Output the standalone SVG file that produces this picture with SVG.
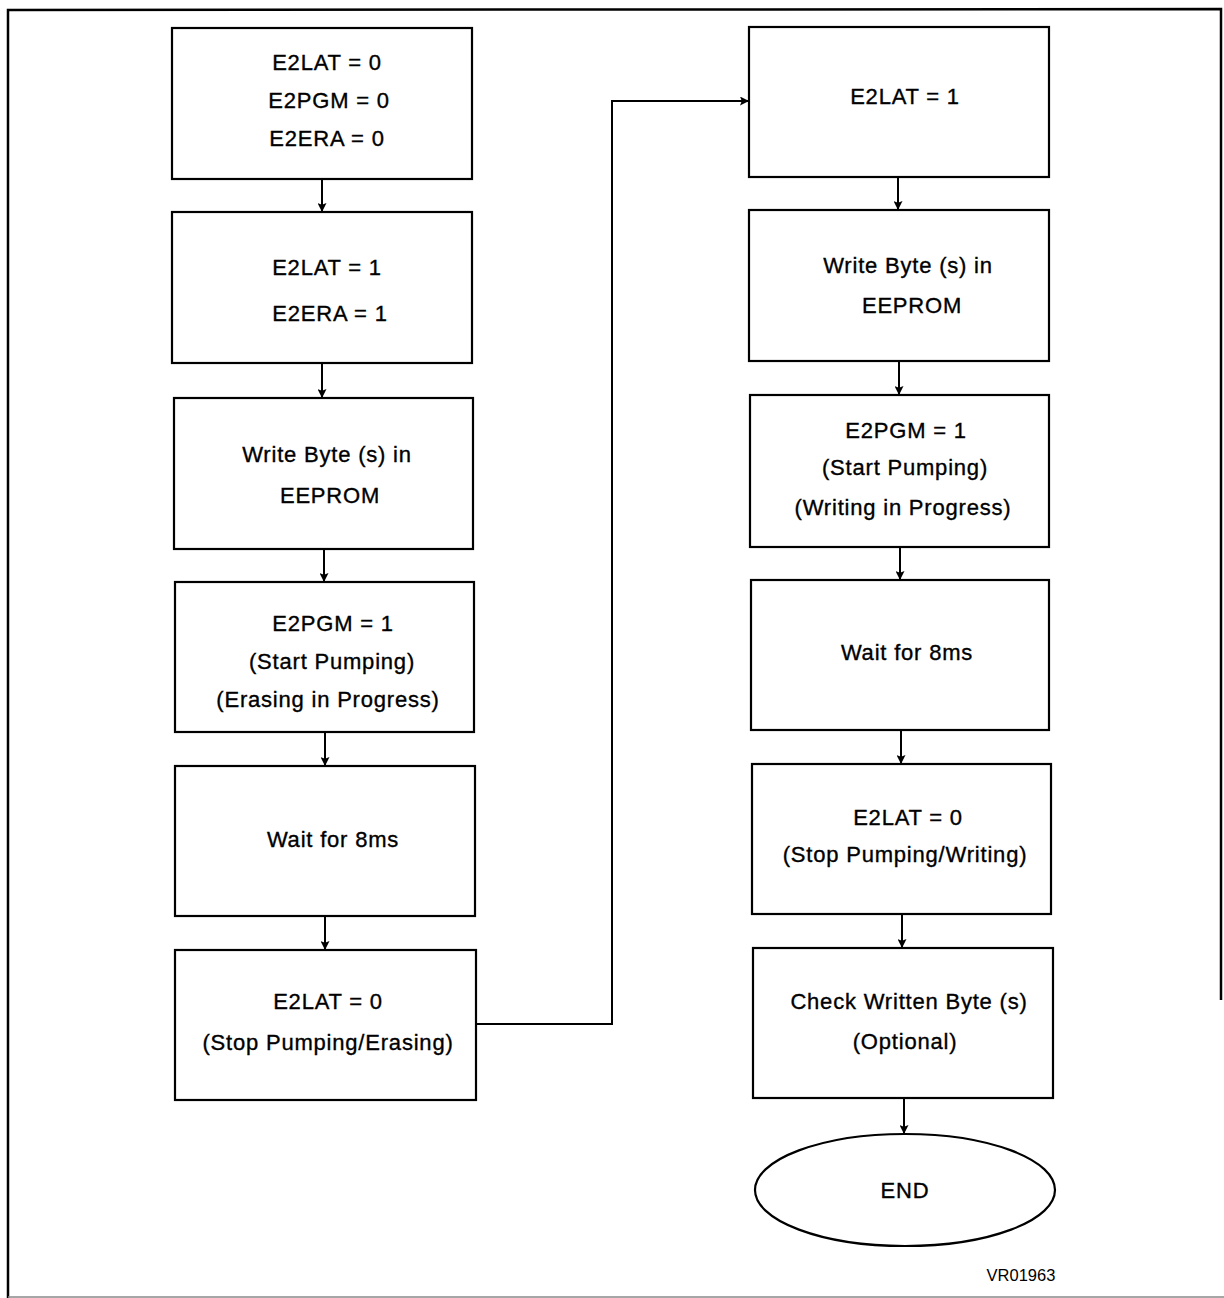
<svg xmlns="http://www.w3.org/2000/svg" width="1224" height="1298" viewBox="0 0 1224 1298">
<defs>
<style>
.box{fill:#fff;stroke:#000;stroke-width:2.2}
.t{font-family:"Liberation Sans",Arial,sans-serif;font-size:22px;letter-spacing:0.8px;fill:#000;stroke:#000;stroke-width:0.35;text-anchor:middle}
.c{fill:none;stroke:#000;stroke-width:2}
.border{fill:none;stroke:#000;stroke-width:2.5}
</style>
<marker id="ah" viewBox="0 0 10 10" refX="10" refY="5" markerWidth="12" markerHeight="9" markerUnits="userSpaceOnUse" orient="auto">
<path d="M0,0 L10,5 L0,10 L2,5 Z" fill="#000"/>
</marker>
</defs>
<rect width="1224" height="1298" fill="#fff"/>
<g id="frame">
<path class="border" d="M8,1298 L8,10 L1221,9 L1221,1000"/>
<line x1="8" y1="1297" x2="1224" y2="1297" stroke="#888" stroke-width="1.5"/>
</g>
<g id="connectors">
<line class="c" x1="322" y1="179" x2="322" y2="212" marker-end="url(#ah)"/>
<line class="c" x1="322" y1="363" x2="322" y2="398" marker-end="url(#ah)"/>
<line class="c" x1="324" y1="549" x2="324" y2="582" marker-end="url(#ah)"/>
<line class="c" x1="325" y1="732" x2="325" y2="766" marker-end="url(#ah)"/>
<line class="c" x1="325" y1="916" x2="325" y2="950" marker-end="url(#ah)"/>
<path class="c" d="M476,1024 L612,1024 L612,101 L749,101" marker-end="url(#ah)"/>
<line class="c" x1="898" y1="177" x2="898" y2="210" marker-end="url(#ah)"/>
<line class="c" x1="899" y1="361" x2="899" y2="395" marker-end="url(#ah)"/>
<line class="c" x1="900" y1="547" x2="900" y2="580" marker-end="url(#ah)"/>
<line class="c" x1="901" y1="730" x2="901" y2="764" marker-end="url(#ah)"/>
<line class="c" x1="902" y1="914" x2="902" y2="948" marker-end="url(#ah)"/>
<line class="c" x1="904" y1="1098" x2="904" y2="1134" marker-end="url(#ah)"/>
</g>
<g id="n1">
<rect class="box" x="172" y="28" width="300" height="151"/>
<text class="t" x="327" y="70">E2LAT = 0</text>
<text class="t" x="329" y="108">E2PGM = 0</text>
<text class="t" x="327" y="146">E2ERA = 0</text>
</g>
<g id="n2">
<rect class="box" x="172" y="212" width="300" height="151"/>
<text class="t" x="327" y="275">E2LAT = 1</text>
<text class="t" x="330" y="321">E2ERA = 1</text>
</g>
<g id="n3">
<rect class="box" x="174" y="398" width="299" height="151"/>
<text class="t" x="327" y="462">Write Byte (s) in</text>
<text class="t" x="330" y="503">EEPROM</text>
</g>
<g id="n4">
<rect class="box" x="175" y="582" width="299" height="150"/>
<text class="t" x="333" y="631">E2PGM = 1</text>
<text class="t" x="332" y="669">(Start Pumping)</text>
<text class="t" x="328" y="707">(Erasing in Progress)</text>
</g>
<g id="n5">
<rect class="box" x="175" y="766" width="300" height="150"/>
<text class="t" x="333" y="847">Wait for 8ms</text>
</g>
<g id="n6">
<rect class="box" x="175" y="950" width="301" height="150"/>
<text class="t" x="328" y="1009">E2LAT = 0</text>
<text class="t" x="328" y="1050">(Stop Pumping/Erasing)</text>
</g>
<g id="m1">
<rect class="box" x="749" y="27" width="300" height="150"/>
<text class="t" x="905" y="104">E2LAT = 1</text>
</g>
<g id="m2">
<rect class="box" x="749" y="210" width="300" height="151"/>
<text class="t" x="908" y="273">Write Byte (s) in</text>
<text class="t" x="912" y="313">EEPROM</text>
</g>
<g id="m3">
<rect class="box" x="750" y="395" width="299" height="152"/>
<text class="t" x="906" y="438">E2PGM = 1</text>
<text class="t" x="905" y="475">(Start Pumping)</text>
<text class="t" x="903" y="515">(Writing in Progress)</text>
</g>
<g id="m4">
<rect class="box" x="751" y="580" width="298" height="150"/>
<text class="t" x="907" y="660">Wait for 8ms</text>
</g>
<g id="m5">
<rect class="box" x="752" y="764" width="299" height="150"/>
<text class="t" x="908" y="825">E2LAT = 0</text>
<text class="t" x="905" y="862">(Stop Pumping/Writing)</text>
</g>
<g id="m6">
<rect class="box" x="753" y="948" width="300" height="150"/>
<text class="t" x="909" y="1009">Check Written Byte (s)</text>
<text class="t" x="905" y="1049">(Optional)</text>
</g>
<g id="end">
<ellipse class="box" cx="905" cy="1190" rx="150" ry="56"/>
<text class="t" x="905" y="1198">END</text>
</g>
<text x="1021" y="1281" font-family="Liberation Sans,Arial,sans-serif" font-size="16.5" text-anchor="middle" fill="#000">VR01963</text>
</svg>
